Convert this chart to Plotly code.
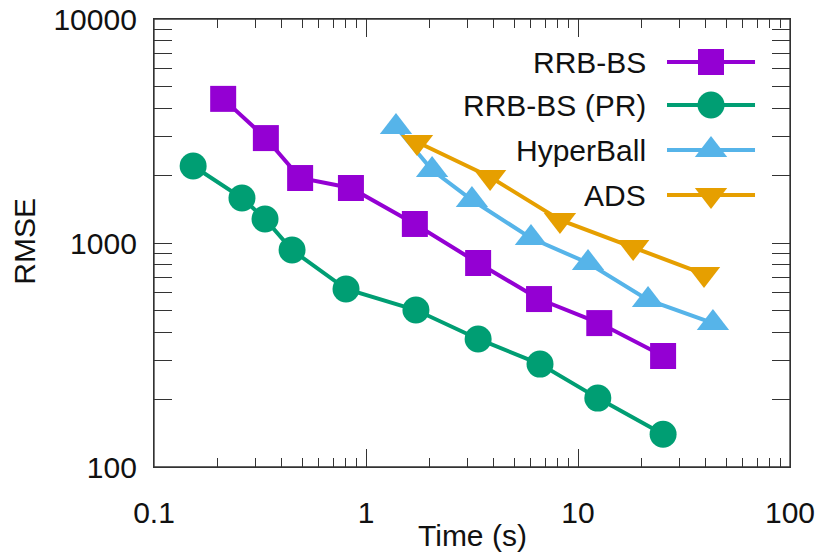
import plotly.graph_objects as go

# ---- data ----
rrb_t = [0.212, 0.337, 0.489, 0.849, 1.70, 3.38, 6.55, 12.6, 25.2]
rrb_e = [4400, 2940, 1950, 1760, 1216, 814, 562, 439, 313]

rrbpr_t = [0.153, 0.260, 0.334, 0.448, 0.805, 1.72, 3.38, 6.62, 12.4, 25.2]
rrbpr_e = [2206, 1588, 1280, 930, 623, 502, 373, 288, 203, 140]

hb_t = [1.385, 2.05, 3.16, 6.0, 11.15, 21.4, 43.3]
hb_e = [3295, 2118, 1556, 1052, 814, 557, 439]

ads_t = [1.74, 3.85, 8.22, 18.2, 39.3]
ads_e = [2824, 1971, 1267, 959, 727]

labels = ["RRB-BS", "RRB-BS (PR)", "HyperBall", "ADS"]
colors = ["#9400D3", "#009E73", "#56B4E9", "#E69F00"]
symbols = ["square", "circle", "triangle-up", "triangle-down"]
msizes = [26, 27, 28, 28]

xtick_vals = [0.1, 1, 10, 100]
xtick_text = ["0.1", "1", "10", "100"]
ytick_vals = [100, 1000, 10000]
ytick_text = ["100", "1000", "10000"]

series = [(rrb_t, rrb_e), (rrbpr_t, rrbpr_e), (hb_t, hb_e), (ads_t, ads_e)]

FONT = "Liberation Sans, Arial, sans-serif"
FS = 30
AX = "#333"

fig = go.Figure()
for (t, e), lab, c, s, ms in zip(series, labels, colors, symbols, msizes):
    fig.add_trace(go.Scatter(
        x=t, y=e, mode="lines+markers", name=lab, showlegend=False,
        line=dict(color=c, width=4),
        marker=dict(symbol=s, size=ms, color=c, line=dict(width=0)),
    ))

# custom gnuplot-style key (text left, sample right) on overlay axes in [0,1]
key_rows = [0.904, 0.808, 0.7076, 0.607]
for lab, c, s, ms, yr in zip(labels, colors, symbols, msizes, key_rows):
    fig.add_trace(go.Scatter(
        x=[0.8066, 0.945], y=[yr, yr], mode="lines", showlegend=False,
        line=dict(color=c, width=4), xaxis="x2", yaxis="y2", hoverinfo="skip"))
    fig.add_trace(go.Scatter(
        x=[0.8758], y=[yr], mode="markers", showlegend=False,
        marker=dict(symbol=s, size=ms, color=c, line=dict(width=0)),
        xaxis="x2", yaxis="y2", hoverinfo="skip"))
    fig.add_annotation(
        x=0.7767, y=yr, xref="x2", yref="y2", text=lab, showarrow=False,
        xanchor="right", yanchor="middle", font=dict(family=FONT, size=FS, color="#111"))

# invisible trace so the top tick axis is active
fig.add_trace(go.Scatter(x=[1], y=[1000], mode="markers", marker=dict(opacity=0),
                         showlegend=False, hoverinfo="skip", xaxis="x3", yaxis="y"))

axis_common = dict(
    showgrid=False, zeroline=False, showline=True, linecolor=AX, linewidth=1.3,
    mirror="allticks", ticks="inside", tickcolor=AX, tickwidth=1.3, ticklen=18,
    tickfont=dict(family=FONT, size=FS, color="#111"), automargin=False,
    ticklabeloverflow="allow",
)
minor_common = dict(ticks="inside", ticklen=9, tickcolor=AX, tickwidth=1.3, dtick="D1", showgrid=False)

# page body has an 8px margin, so the figure is sized/offset to compensate
fig.update_layout(
    width=815, height=544,
    margin=dict(l=146, r=33, t=11, b=85),
    paper_bgcolor="white", plot_bgcolor="white",
    xaxis=dict(type="log", range=[-1, 2], tickvals=xtick_vals, ticktext=xtick_text,
               ticklabelstandoff=19, minor=minor_common, **axis_common),
    yaxis=dict(type="log", range=[2, 4], tickvals=ytick_vals, ticktext=ytick_text,
               ticklabelstandoff=10, minor=minor_common, **axis_common),
    xaxis2=dict(overlaying="x", range=[0, 1], visible=False),
    yaxis2=dict(overlaying="y", range=[0, 1], visible=False),
    xaxis3=dict(overlaying="x", side="top", anchor="y", type="log", range=[-1, 2],
                tickvals=xtick_vals, showticklabels=False, showgrid=False, zeroline=False,
                showline=True, linecolor=AX, linewidth=1.3, ticks="inside", tickcolor=AX,
                tickwidth=1.3, ticklen=18, minor=minor_common, automargin=False),
)

fig.add_shape(type="rect", xref="paper", yref="paper", x0=0, x1=1, y0=0, y1=1,
              line=dict(color=AX, width=1.3), fillcolor="rgba(0,0,0,0)", layer="above")

fig.add_annotation(x=-0.203, y=0.505, xref="paper", yref="paper", text="RMSE", textangle=-90,
                   showarrow=False, xanchor="center", yanchor="middle",
                   font=dict(family=FONT, size=FS, color="#111"))
fig.add_annotation(x=0.5, y=-0.152, xref="paper", yref="paper", text="Time (s)",
                   showarrow=False, xanchor="center", yanchor="middle",
                   font=dict(family=FONT, size=FS, color="#111"))

fig.write_html("out.html", config={"displayModeBar": False})
